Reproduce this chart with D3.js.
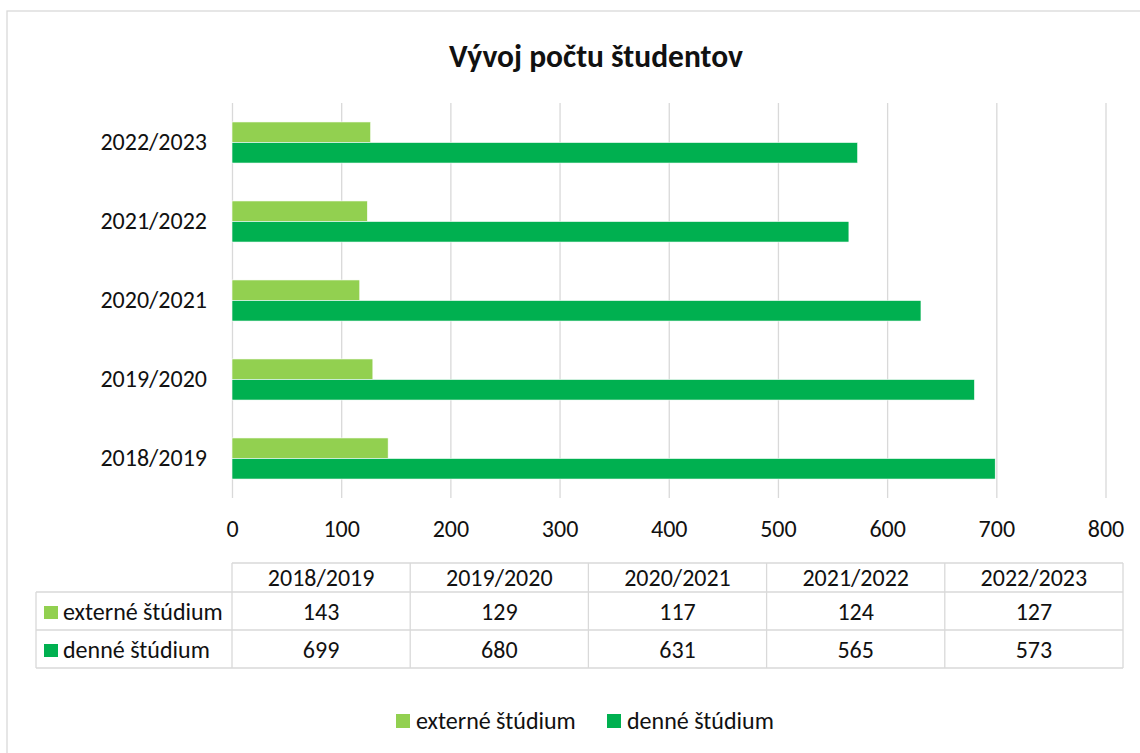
<!DOCTYPE html>
<html>
<head>
<meta charset="utf-8">
<script src="https://cdn.jsdelivr.net/npm/d3@7"></script>
<style>
  body { margin: 0; background: #fff; }
  svg { display: block; font-family: Calibri, Carlito, sans-serif; }
  text { fill: #111; }
</style>
</head>
<body>
<svg></svg>
<script>
const categories = ["2018/2019", "2019/2020", "2020/2021", "2021/2022", "2022/2023"];
const seriesNames = ["externé štúdium", "denné štúdium"];
const externe = [143, 129, 117, 124, 127];
const denne = [699, 680, 631, 565, 573];
const xTicks = [0, 100, 200, 300, 400, 500, 600, 700, 800];
const colors = ["#92d050", "#00b050"];

const width = 1140;
const height = 753;
const plot = { left: 232, right: 1105.5, top: 103, bottom: 498 };
const fontSize = 24;
const fontFamily = "Calibri, Carlito, sans-serif";

const svg = d3.select("svg")
    .attr("width", width)
    .attr("height", height);

// chart border
svg.append("rect")
    .attr("x", 7).attr("y", 11)
    .attr("width", 1145).attr("height", 760)
    .attr("fill", "#fff")
    .attr("stroke", "#d9d9d9")
    .attr("stroke-width", 1.3);

svg.append("text")
    .attr("x", 596).attr("y", 56)
    .attr("text-anchor", "middle")
    .attr("dominant-baseline", "central")
    .style("font-size", "31.5px")
    .style("font-weight", "bold")
    .text("Vývoj počtu študentov");

const x = d3.scaleLinear()
    .domain([0, 800])
    .range([plot.left, plot.right]);

const y = d3.scaleBand()
    .domain(categories.slice().reverse())
    .range([plot.top, plot.bottom])
    .paddingInner(0.48)
    .paddingOuter(0.24);

const sub = d3.scaleBand()
    .domain(seriesNames)
    .range([0, y.bandwidth()]);

// x axis + gridlines
const xAxis = svg.append("g")
    .attr("transform", `translate(0,${plot.bottom})`)
    .call(d3.axisBottom(x).tickValues(xTicks).tickSize(-(plot.bottom - plot.top)).tickPadding(22));
xAxis.attr("font-family", fontFamily).attr("font-size", fontSize);
xAxis.select(".domain").remove();
xAxis.selectAll("line").attr("stroke", "#d9d9d9").attr("stroke-width", 1.3);
xAxis.selectAll("text").attr("fill", "#111");

// y axis
const yAxis = svg.append("g")
    .attr("transform", `translate(${plot.left},0)`)
    .call(d3.axisLeft(y).tickSize(0).tickPadding(25));
yAxis.attr("font-family", fontFamily).attr("font-size", fontSize);
yAxis.select(".domain").remove();
yAxis.selectAll("text").attr("fill", "#111");

const rows = categories.map((c, i) => ({ category: c, values: [externe[i], denne[i]] }));

const groups = svg.append("g")
    .selectAll("g")
    .data(rows)
    .enter().append("g")
    .attr("transform", d => `translate(0,${y(d.category)})`);

groups.selectAll("rect")
    .data(d => d.values.map((v, j) => ({ name: seriesNames[j], value: v, color: colors[j] })))
    .enter().append("rect")
    .attr("x", x(0))
    .attr("y", d => sub(d.name))
    .attr("width", d => x(d.value) - x(0))
    .attr("height", sub.bandwidth())
    .attr("fill", d => d.color)
    .attr("stroke", "#fff")
    .attr("stroke-width", 0.6);

// data table
const col = d3.scaleBand()
    .domain(categories)
    .range([232, 1123]);
const tableLeft = 36;
const rowY = [563, 592, 630, 668];
const grid = svg.append("g").attr("stroke", "#d9d9d9").attr("stroke-width", 1.3);

grid.append("line").attr("x1", col.range()[0]).attr("x2", col.range()[1]).attr("y1", rowY[0]).attr("y2", rowY[0]);
[1, 2, 3].forEach(r => {
    grid.append("line").attr("x1", tableLeft).attr("x2", col.range()[1]).attr("y1", rowY[r]).attr("y2", rowY[r]);
});
grid.append("line").attr("x1", tableLeft).attr("x2", tableLeft).attr("y1", rowY[1]).attr("y2", rowY[3]);
categories.forEach(c => {
    grid.append("line").attr("x1", col(c)).attr("x2", col(c)).attr("y1", rowY[0]).attr("y2", rowY[3]);
});
grid.append("line").attr("x1", col.range()[1]).attr("x2", col.range()[1]).attr("y1", rowY[0]).attr("y2", rowY[3]);

svg.append("g").selectAll("text")
    .data(categories)
    .enter().append("text")
    .attr("x", d => col(d) + col.bandwidth() / 2)
    .attr("y", (rowY[0] + rowY[1]) / 2)
    .attr("text-anchor", "middle")
    .attr("dominant-baseline", "central")
    .style("font-size", fontSize + "px")
    .text(d => d);

const seriesData = [externe, denne];
seriesNames.forEach((name, j) => {
    const cy = (rowY[j + 1] + rowY[j + 2]) / 2;
    svg.append("rect")
        .attr("x", 44).attr("y", cy - 5)
        .attr("width", 14).attr("height", 13)
        .attr("fill", colors[j]);
    svg.append("text")
        .attr("x", 63).attr("y", cy)
        .attr("dominant-baseline", "central")
        .style("font-size", fontSize + "px")
        .text(name);
    svg.append("g").selectAll("text")
        .data(seriesData[j])
        .enter().append("text")
        .attr("x", (d, i) => col(categories[i]) + col.bandwidth() / 2)
        .attr("y", cy)
        .attr("text-anchor", "middle")
        .attr("dominant-baseline", "central")
        .style("font-size", fontSize + "px")
        .text(d => d);
});

// legend
const legendX = [396, 607];
const legend = svg.append("g")
    .selectAll("g")
    .data(seriesNames)
    .enter().append("g")
    .attr("transform", (d, i) => `translate(${legendX[i]},714)`);
legend.append("rect")
    .attr("width", 14).attr("height", 14)
    .attr("fill", (d, i) => colors[i]);
legend.append("text")
    .attr("x", 20).attr("y", 6)
    .attr("dominant-baseline", "central")
    .style("font-size", fontSize + "px")
    .text(d => d);
</script>
</body>
</html>
